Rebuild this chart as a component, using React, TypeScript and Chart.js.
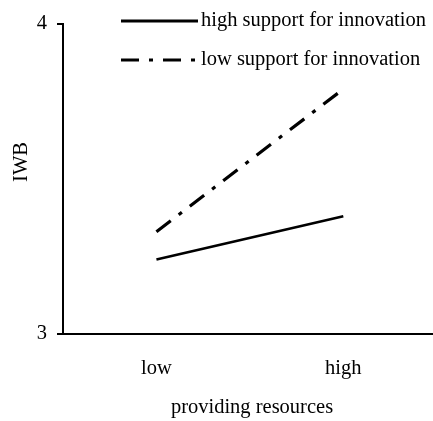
import React, { useEffect, useRef } from "react";
import { Chart, registerables } from "chart.js";

Chart.register(...registerables);

const categories = ["low", "high"];
const highSupport = [3.24, 3.38];
const lowSupport = [3.33, 3.79];
const yTicks = [3, 4];
const seriesLabels = ["high support for innovation", "low support for innovation"];
const xTitle = "providing resources";
const yTitle = "IWB";

const FONT = "'Liberation Serif', 'Times New Roman', serif";
const FONT_SIZE = 20.5;

const legendPlugin = {
  id: "customLegend",
  afterDraw(chart: any) {
    const ctx = chart.ctx;
    const rows = [21, 60];
    ctx.save();
    chart.data.datasets.forEach((ds: any, i: number) => {
      const y = rows[i];
      ctx.beginPath();
      ctx.strokeStyle = "#000";
      ctx.lineWidth = 3;
      ctx.setLineDash(ds.borderDash || []);
      ctx.moveTo(121, y);
      ctx.lineTo(198, y);
      ctx.stroke();
      ctx.setLineDash([]);
      ctx.fillStyle = "#000";
      ctx.font = `${FONT_SIZE}px ${FONT}`;
      ctx.textAlign = "left";
      ctx.textBaseline = "middle";
      ctx.fillText(ds.label, 201, y);
    });
    ctx.restore();
  },
};

const titlesPlugin = {
  id: "axisTitles",
  afterDraw(chart: any) {
    const ctx = chart.ctx;
    ctx.save();
    ctx.fillStyle = "#000";
    ctx.font = `${FONT_SIZE}px ${FONT}`;
    ctx.textAlign = "center";
    ctx.textBaseline = "middle";
    ctx.fillText(xTitle, 252, 408);
    ctx.translate(22, 162);
    ctx.rotate(-Math.PI / 2);
    ctx.fillText(yTitle, 0, 0);
    ctx.restore();
  },
};

export default function App() {
  const ref = useRef<HTMLCanvasElement | null>(null);

  useEffect(() => {
    document.body.style.margin = "0";
    const canvas = ref.current;
    if (!canvas) return;
    const font = { family: FONT, size: FONT_SIZE };
    const chart = new Chart(canvas, {
      type: "line",
      data: {
        datasets: [
          {
            label: seriesLabels[0],
            data: highSupport.map((y, i) => ({ x: i, y })),
            borderColor: "#000",
            borderWidth: 2.6,
            borderDash: [],
            pointRadius: 0,
            fill: false,
          },
          {
            label: seriesLabels[1],
            data: lowSupport.map((y, i) => ({ x: i, y })),
            borderColor: "#000",
            borderWidth: 3.2,
            borderDash: [18, 10, 4, 10],
            pointRadius: 0,
            fill: false,
          },
        ],
      },
      options: {
        responsive: false,
        animation: false,
        layout: { padding: { top: 24, right: 0, left: 0, bottom: 0 } },
        plugins: {
          legend: { display: false },
          tooltip: { enabled: false },
        },
        scales: {
          x: {
            type: "linear",
            min: -0.5,
            max: 1.48,
            afterBuildTicks: (s: any) => {
              s.ticks = categories.map((_, i) => ({ value: i }));
            },
            afterFit: (s: any) => {
              s.height = 87;
            },
            ticks: {
              callback: (v: any) => categories[v] ?? "",
              font,
              color: "#000",
              padding: 14,
              maxRotation: 0,
              autoSkip: false,
            },
            grid: { display: false },
            border: { display: true, color: "#000", width: 2 },
            title: { display: false },
          },
          y: {
            min: 3,
            max: 4,
            afterBuildTicks: (s: any) => {
              s.ticks = yTicks.map((v) => ({ value: v }));
            },
            afterFit: (s: any) => {
              s.width = 63;
            },
            ticks: { font, color: "#000", padding: 10 },
            grid: {
              drawOnChartArea: false,
              drawTicks: true,
              tickLength: 6,
              color: "#000",
              lineWidth: 2,
            },
            border: { display: true, color: "#000", width: 2 },
          },
        },
      } as any,
      plugins: [legendPlugin, titlesPlugin],
    });
    return () => chart.destroy();
  }, []);

  return (
    <div style={{ width: 433, height: 421 }}>
      <canvas ref={ref} width={433} height={421} />
    </div>
  );
}
